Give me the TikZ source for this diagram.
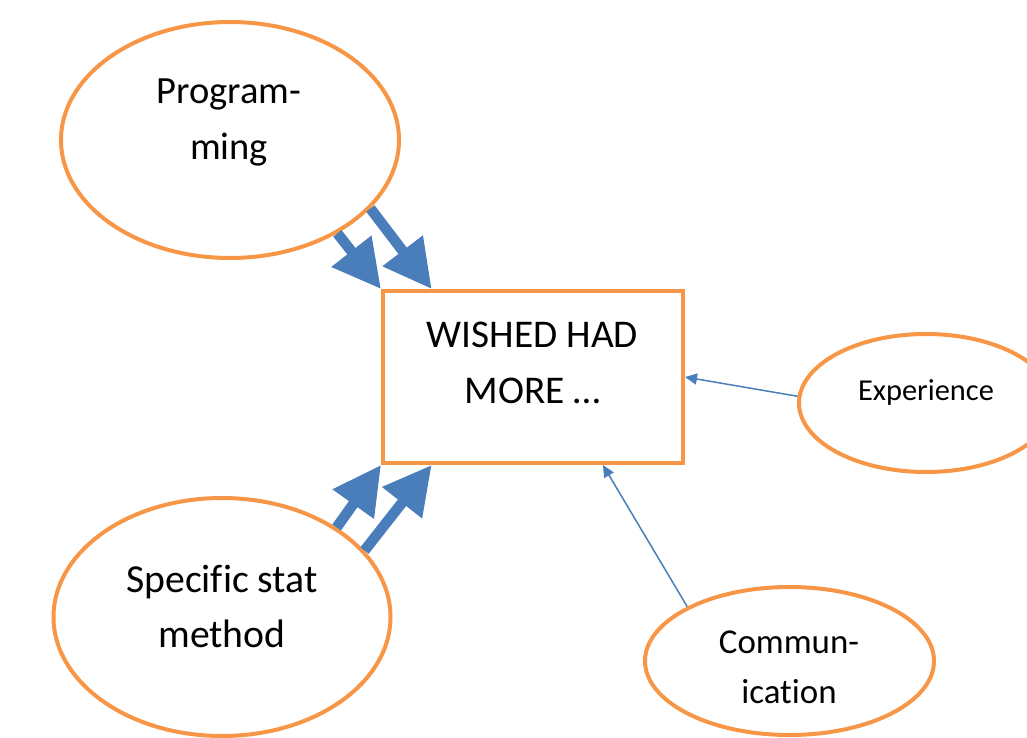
\documentclass[tikz,border=0pt]{standalone}
\usepackage{fontspec}
\setmainfont[Ligatures=NoCommon]{Carlito}
\usetikzlibrary{arrows.meta,calc,shapes.geometric}
\definecolor{edgeorange}{HTML}{F79646}
\definecolor{linkblue}{HTML}{4A7EBB}
\newcommand{\twolines}[4]{\fontsize{#1}{#2}\selectfont\setlength{\tabcolsep}{0pt}\begin{tabular}[t]{c}#3\\#4\end{tabular}}
\begin{document}
\begin{tikzpicture}[x=1pt,y=-1pt,
  bubble/.style={draw=edgeorange,line width=4pt,ellipse,inner sep=0pt,fill=none},
  goalbox/.style={draw=edgeorange,line width=4pt,rectangle,inner sep=0pt},
  label text/.style={anchor=base,inner sep=0pt,text=black},
  strong/.style={draw=linkblue,line width=10.5pt,-{Triangle[length=48pt,width=48pt]}},
  weak/.style={draw=linkblue,line width=1.5pt,-{Triangle[length=12pt,width=11pt]}}]
  \useasboundingbox (0,0) rectangle (1027,738);

  % shapes
  \node[bubble,minimum width=338pt,minimum height=236pt] (prog) at (230,140) {};
  \node[bubble,minimum width=337pt,minimum height=238pt] (spec) at (222,617) {};
  \node[bubble,minimum width=254pt,minimum height=138pt] (exp) at (926,403) {};
  \node[bubble,minimum width=289pt,minimum height=148pt] (comm) at (789.5,661) {};
  \node[goalbox,minimum width=300pt,minimum height=172pt] (box) at (533,377) {};

  % texts
  \node[label text] (progtext) at (229,104) {\twolines{38.5}{56}{Program-}{ming}};
  \node[label text] (boxtext) at (532.5,347) {\twolines{39.3}{56}{WISHED HAD}{MORE …}};
  \node[label text] (spectext) at (222,592) {\twolines{39.7}{55}{Specific stat}{method}};
  \node[label text] (commtext) at (789,653) {\twolines{34.9}{50}{Commun-}{ication}};
  \node[label text,font=\fontsize{30.4}{36}\selectfont] (exptext) at (926,400) {Experience};

  % connectors
  \coordinate (topmid) at ($(box.north west)!0.1667!(box.north east)$);
  \coordinate (botmid) at ($(box.south west)!0.1667!(box.south east)$);
  \coordinate (botright) at ($(box.south west)!0.73!(box.south east)$);
  \draw[strong] (prog.-41.8) -- (box.north west);
  \draw[strong] (prog.-26.2) -- (topmid);
  \draw[strong] (spec.38.8) -- (box.south west);
  \draw[strong] (spec.25.4) -- (botmid);
  \draw[weak] (exp.177.8) -- (box.east);
  \draw[weak] (comm.152.9) -- (botright);
\end{tikzpicture}
\end{document}
